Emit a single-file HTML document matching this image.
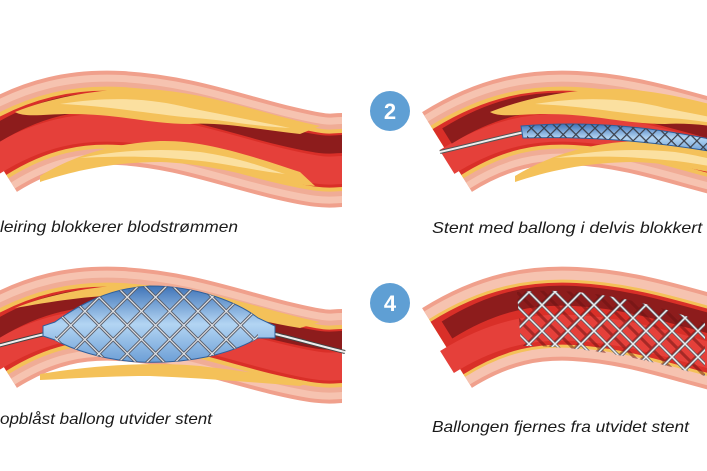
<!DOCTYPE html>
<html><head><meta charset="utf-8"><style>
html,body{margin:0;padding:0;background:#fff;}
svg{display:block;}
text{font-family:"Liberation Sans",sans-serif;font-style:italic;font-size:16px;fill:#1a1a1a;}
</style></head><body>
<svg width="707" height="471" viewBox="0 0 707 471" xmlns="http://www.w3.org/2000/svg">
<defs>
  <path id="c" d="M -8,152 C 40,122 80,116 120,118 C 180,121 230,140 280,152 S 330,160 342,160"/>
  <pattern id="mesh" width="20" height="20" patternUnits="userSpaceOnUse" patternTransform="rotate(45)">
    <path d="M0,1.5H20 M1.5,0V20" stroke="#4a4f5c" stroke-width="3"/>
    <path d="M0,1.5H20 M1.5,0V20" stroke="#e4e6ea" stroke-width="1.3"/>
  </pattern>
  <pattern id="meshs" width="9" height="9" patternUnits="userSpaceOnUse" patternTransform="rotate(45)">
    <path d="M0,0.6H9 M0.6,0V9" stroke="#3b3f4a" stroke-width="1.2"/>
  </pattern>
  <linearGradient id="bal" x1="0" y1="0" x2="0" y2="1">
    <stop offset="0" stop-color="#3f74b8"/><stop offset="0.5" stop-color="#b3d5f3"/><stop offset="1" stop-color="#6d9fd6"/>
  </linearGradient>
  <clipPath id="c4"><path d="M62,96 C130,90 195,106 250,127 L250,180 C200,166 140,150 66,150 Z"/></clipPath>
  <path id="grid" d="M0,80L110,190 M26,80L136,190 M52,80L162,190 M78,80L188,190 M104,80L214,190 M130,80L240,190 M156,80L266,190 M182,80L292,190 M208,80L318,190 M234,80L344,190 M-26,80L84,190 M-52,80L58,190
  M0,190L110,80 M26,190L136,80 M52,190L162,80 M78,190L188,80 M104,190L214,80 M130,190L240,80 M156,190L266,80 M182,190L292,80 M208,190L318,80 M234,190L344,80 M-26,190L84,80"/>
  <g id="v1">
    <use href="#c" fill="none" stroke="#f0a08c" stroke-width="94"/>
    <use href="#c" fill="none" stroke="#f6c3b0" stroke-width="86"/>
    <use href="#c" fill="none" stroke="#f0ac96" stroke-width="72"/>
    <use href="#c" fill="none" stroke="#f4c159" stroke-width="62"/>
    <use href="#c" fill="none" stroke="#d92f28" stroke-width="54"/>
    <use href="#c" fill="none" stroke="#e5403a" stroke-width="28" transform="translate(0,10)"/>
    <use href="#c" fill="none" stroke="#8d1c1c" stroke-width="18" transform="translate(0,-16)"/>
  </g>
  <g id="plq">
    <path d="M 15,112 C 60,94 120,86 160,90 C 220,96 270,116 320,126 L 300,134 C 260,130 225,122 190,124 C 150,124 120,114 70,114 C 45,114 25,118 15,112 Z" fill="#f4c159"/>
    <path d="M 60,104 C 110,96 150,98 190,108 C 230,116 260,122 290,128 C 250,126 225,120 195,118 C 150,114 110,106 60,104 Z" fill="#fbe0a0"/>
    <path d="M 40,176 C 80,152 120,143 160,141 C 200,140 240,152 300,172 L 315,186 C 260,182 220,164 160,162 C 110,162 70,172 40,182 Z" fill="#f4c159"/>
    <path d="M 80,158 C 120,150 160,148 200,152 C 240,158 260,166 285,174 C 250,170 220,162 190,160 C 150,156 120,156 80,158 Z" fill="#fbe0a0"/>
  </g>
</defs>

<use href="#v1"/>
<use href="#plq"/>

<g transform="translate(455,0)">
  <use href="#v1"/>
  <g transform="translate(20,0)"><use href="#plq"/></g>
  <path d="M-15,152 C20,144 50,136 70,132" fill="none" stroke="#555" stroke-width="4"/>
  <path d="M-15,152 C20,144 50,136 70,132" fill="none" stroke="#eee" stroke-width="2"/>
  <path d="M66,126 C140,120 200,128 260,140 L260,152 C200,142 140,136 68,138 Z" fill="url(#bal)" stroke="#2f5f9c" stroke-width="1"/>
  <path d="M72,126 C140,120 200,128 260,140 L260,152 C200,142 140,136 72,138 Z" fill="url(#meshs)"/>
</g>
<circle cx="390" cy="111" r="20" fill="#5f9fd4"/>
<text x="390" y="119" text-anchor="middle" style="font-style:normal;font-weight:bold;font-size:22px;fill:#fff">2</text>

<g transform="translate(0,196)">
  <use href="#v1"/>
  <path d="M 15,112 C 60,94 120,86 160,90 C 220,96 270,116 320,126 L 300,132 C 250,124 210,110 160,100 C 110,96 60,104 15,112 Z" fill="#f4c159"/>
  <path d="M 40,178 C 100,168 160,166 200,170 C 250,176 280,180 310,186 L 300,190 C 250,186 200,182 150,180 C 110,180 80,182 40,184 Z" fill="#f4c159"/>
  <path d="M-10,152 C20,144 35,140 45,138" fill="none" stroke="#444" stroke-width="4"/>
  <path d="M-10,152 C20,144 35,140 45,138" fill="none" stroke="#eee" stroke-width="2"/>
  <path d="M275,138 C300,144 320,150 345,156" fill="none" stroke="#444" stroke-width="4"/>
  <path d="M275,138 C300,144 320,150 345,156" fill="none" stroke="#eee" stroke-width="2"/>
  <path d="M43,130 L55,126 C80,108 110,92 150,90 C200,90 240,108 258,122 L275,130 L275,142 L258,142 C230,158 190,168 140,166 C100,164 70,152 55,144 L43,140 Z" fill="url(#bal)" stroke="#2f5f9c" stroke-width="1"/>
  <path d="M55,126 C80,108 110,92 150,90 C200,90 240,108 258,122 L258,142 C230,158 190,168 140,166 C100,164 70,152 55,144 Z" fill="url(#mesh)"/>
</g>

<g transform="translate(455,196)">
  <use href="#c" fill="none" stroke="#f0a08c" stroke-width="94"/>
  <use href="#c" fill="none" stroke="#f6c3b0" stroke-width="86"/>
  <use href="#c" fill="none" stroke="#f4c159" stroke-width="68"/>
  <use href="#c" fill="none" stroke="#d92f28" stroke-width="62"/>
  <use href="#c" fill="none" stroke="#e5403a" stroke-width="26" transform="translate(0,14)"/>
  <use href="#c" fill="none" stroke="#8d1c1c" stroke-width="20" transform="translate(0,-18)"/>
  <g clip-path="url(#c4)">
    <use href="#grid" transform="translate(-14,-8)" fill="none" stroke="#6a1212" stroke-width="3" opacity="0.5"/>
    <g transform="translate(6,0)">
      <use href="#grid" fill="none" stroke="#5e6068" stroke-width="3"/>
      <use href="#grid" fill="none" stroke="#ececee" stroke-width="1.5"/>
    </g>
  </g>
</g>
<circle cx="390" cy="303" r="20" fill="#5f9fd4"/>
<text x="390" y="311" text-anchor="middle" style="font-style:normal;font-weight:bold;font-size:22px;fill:#fff">4</text>

<text x="0" y="232" textLength="238" lengthAdjust="spacingAndGlyphs">leiring blokkerer blodstrømmen</text>
<text x="432" y="233" textLength="285" lengthAdjust="spacingAndGlyphs">Stent med ballong i delvis blokkert a</text>
<text x="0" y="424" textLength="212" lengthAdjust="spacingAndGlyphs">opblåst ballong utvider stent</text>
<text x="432" y="432" textLength="257" lengthAdjust="spacingAndGlyphs">Ballongen fjernes fra utvidet stent</text>
</svg>
</body></html>
